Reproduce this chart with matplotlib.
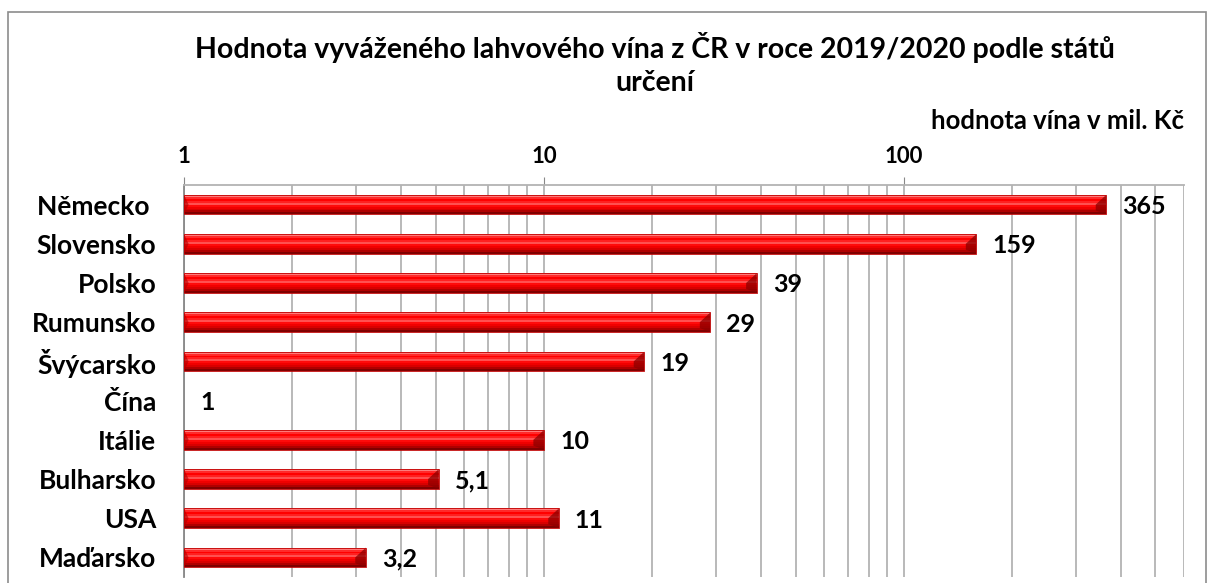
import numpy as np
import matplotlib.pyplot as plt
from matplotlib.patches import Rectangle
from matplotlib.ticker import FixedLocator, NullFormatter
import matplotlib.transforms as mtransforms

plt.rcParams['font.family'] = ['Lato', 'DejaVu Sans']
plt.rcParams['font.weight'] = 'bold'

# Data
states = ['Německo ', 'Slovensko', 'Polsko', 'Rumunsko', 'Švýcarsko',
          'Čína', 'Itálie', 'Bulharsko', 'USA', 'Maďarsko']
values = [365, 159, 39, 29, 19, 1, 10, 5.1, 11, 3.2]
value_labels = ['365', '159', '39', '29', '19', '1', '10', '5,1', '11', '3,2']
major_ticks = [1, 10, 100]
major_labels = ['1', '10', '100']
title = 'Hodnota vyváženého lahvového vína z ČR v roce 2019/2020 podle států\nurčení'
unit_label = 'hodnota vína v mil. Kč'

fig = plt.figure(figsize=(12.08, 5.83), dpi=100)
fig.patch.set_facecolor('white')
fig.patches.append(Rectangle((8 / 1208, -0.05), 1198 / 1208, 1.05 - 12 / 583,
                             transform=fig.transFigure, fill=False,
                             edgecolor='#8c8c8c', linewidth=1.2))

ax = fig.add_axes([184 / 1208, 1 - 577 / 583, 1000 / 1208, 392 / 583])
ax.set_xscale('log')
ax.set_xlim(1, 600)
ax.set_ylim(len(states) - 0.5, -0.5)

y = np.arange(len(states))
h = 0.5
# vertical gradient: stack thin stripes, top to bottom
stripe_cols = ['#ff7a7a', '#ff2a2a', '#ff0000', '#ff2020', '#ff5050',
               '#ff0a0a', '#f00000', '#d80000', '#b00000', '#800000']
n = len(stripe_cols)
for i, c in enumerate(stripe_cols):
    off = -h / 2 + (i + 0.5) * h / n
    ax.barh(y + off, [v - 1 for v in values], left=1, height=h / n,
            color=c, edgecolor='none', zorder=3)
# bevelled ends
for yi, v in zip(y, values):
    if v > 1:
        ax.fill([v / 1.07, v, v, v / 1.07], [yi, yi - h / 2, yi + h / 2, yi + h / 2 * 0.6],
                color='#8b0000', alpha=0.75, zorder=4, linewidth=0)
        ax.fill([1, 1.03, 1], [yi - h / 2, yi, yi + h / 2],
                color='#b00000', alpha=0.6, zorder=4, linewidth=0)
        ax.barh(yi, v - 1, left=1, height=h, fill=False,
                edgecolor='#c00000', linewidth=0.6, zorder=5)

off_tr = mtransforms.offset_copy(ax.transData, fig=fig, x=16, y=0, units='dots')
for yi, v, lab in zip(y, values, value_labels):
    ax.text(v, yi + 0.05, lab, va='center', ha='left', fontsize=18,
            fontweight='bold', color='black', zorder=6, transform=off_tr)

ax.xaxis.set_major_locator(FixedLocator(major_ticks))
ax.set_xticks(major_ticks)
ax.set_xticklabels(major_labels)
ax.xaxis.set_minor_locator(FixedLocator([2, 3, 4, 5, 6, 7, 8, 9,
                                         20, 30, 40, 50, 60, 70, 80, 90,
                                         200, 300, 400, 500, 600]))
ax.xaxis.set_minor_formatter(NullFormatter())
ax.xaxis.tick_top()
ax.tick_params(axis='x', which='major', labelsize=16, length=6, color='#888888',
               pad=7)
ax.tick_params(axis='x', which='minor', length=0)
ax.grid(True, axis='x', which='both', color='#b3b3b3', linewidth=1.3, zorder=0)
ax.set_axisbelow(True)

ax.set_yticks(y)
ax.set_yticklabels(states, fontsize=19, fontweight='bold')
ax.tick_params(axis='y', length=0, pad=20)

for s in ['bottom', 'right']:
    ax.spines[s].set_visible(False)
ax.spines['top'].set_color('#b3b3b3')
ax.spines['top'].set_linewidth(1.3)
ax.spines['left'].set_color('#888888')
ax.spines['left'].set_linewidth(1.3)

fig.text(0.542, 1 - 64 / 583, title, ha='center', va='center', fontsize=20.5,
         fontweight='bold', linespacing=1.3)
fig.text(1184 / 1208, 1 - 121 / 583, unit_label, ha='right', va='center',
         fontsize=18.5, fontweight='bold')

fig.savefig('out.png', dpi=100, facecolor='white')
